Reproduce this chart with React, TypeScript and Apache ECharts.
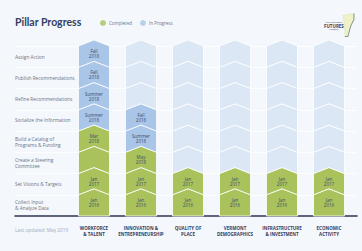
import React, { useEffect, useRef } from "react";
import * as echarts from "echarts";

const pillars = [
  "WORKFORCE\n& TALENT",
  "INNOVATION &\nENTREPRENEURSHIP",
  "QUALITY OF\nPLACE",
  "VERMONT\nDEMOGRAPHICS",
  "INFRASTRUCTURE\n& INVESTMENT",
  "ECONOMIC\nACTIVITY",
];

const steps = [
  "Collect Input\n& Analyze Data",
  "Set Visions & Targets",
  "Create a Steering\nCommittee",
  "Build a Catalog of\nPrograms & Funding",
  "Socialize the Information",
  "Refine Recommendations",
  "Publish Recommendations",
  "Assign Action",
];

// status per step (bottom to top): C = completed, P = in progress, "" = not started
const workforceStatus = ["C", "C", "C", "C", "P", "P", "P", "P"];
const workforceDates = ["Jan\n2016", "Jan\n2017", "", "Mar\n2018", "Summer\n2018", "Summer\n2018", "Fall\n2018", "Fall\n2018"];
const innovationStatus = ["C", "C", "C", "P", "P", "", "", ""];
const innovationDates = ["Jan\n2016", "Jan\n2017", "May\n2018", "Summer\n2018", "Fall\n2018", "", "", ""];
const qualityStatus = ["C", "C", "", "", "", "", "", ""];
const qualityDates = ["Jan\n2016", "Jan\n2017", "", "", "", "", "", ""];
const demographicsStatus = ["C", "C", "", "", "", "", "", ""];
const demographicsDates = ["Jan\n2016", "Jan\n2017", "", "", "", "", "", ""];
const infrastructureStatus = ["C", "C", "", "", "", "", "", ""];
const infrastructureDates = ["Jan\n2016", "Jan\n2017", "", "", "", "", "", ""];
const economicStatus = ["C", "C", "", "", "", "", "", ""];
const economicDates = ["Jan\n2016", "Jan\n2017", "", "", "", "", "", ""];

const legendNames = ["Completed", "In Progress"];
const updatedNote = "Last updated: May 2019";

const COLORS = { C: "#a9c25c", P: "#a9c5e8", "": "#dce7f5" } as Record<string, string>;
const BG = "#f4f7fb";
const NAVY = "#33405f";
const FONT = "'Open Sans', 'Noto Sans', sans-serif";

export default function App() {
  const ref = useRef<HTMLDivElement>(null);
  useEffect(() => {
    if (!ref.current) return;
    const chart = echarts.init(ref.current, undefined, { renderer: "svg" });
    const statuses = [workforceStatus, innovationStatus, qualityStatus, demographicsStatus, infrastructureStatus, economicStatus];
    const dates = [workforceDates, innovationDates, qualityDates, demographicsDates, infrastructureDates, economicDates];
    const cells: { x: number; y: number; s: string; t: string }[] = [];
    statuses.forEach((col, xi) => col.forEach((s, yi) => cells.push({ x: xi, y: yi, s, t: dates[xi][yi] })));

    const renderItem = (params: any, api: any) => {
      const cell = cells[params.dataIndex];
      const [cx, cy] = api.coord([api.value(0), api.value(1)]);
      const bh = api.size([0, 1])[1];
      const w = 31;
      const hc = 6;
      const x0 = cx - w / 2;
      const x1 = cx + w / 2;
      const yt = cy - bh / 2;
      const yb = cy + bh / 2;
      const pts: number[][] = [[x0, yt], [cx, yt - hc], [x1, yt], [x1, yb]];
      if (cell.y > 0) pts.push([cx, yb - hc]);
      pts.push([x0, yb]);
      const children: any[] = [
        { type: "polygon", shape: { points: pts }, style: { fill: COLORS[cell.s], stroke: "#ffffff", lineWidth: 0.8 } },
      ];
      if (cell.t) {
        children.push({
          type: "text",
          x: cx,
          y: cy - 3,
          style: {
            text: cell.t,
            align: "center",
            verticalAlign: "middle",
            fontSize: 4.5,
            lineHeight: 5,
            fill: "#3e4b68",
            fontFamily: FONT,
          },
        });
      }
      return { type: "group", children };
    };

    chart.setOption({
      animation: false,
      backgroundColor: BG,
      title: {
        text: "Pillar Progress",
        left: 15,
        top: 16,
        padding: 0,
        textStyle: { fontSize: 10.5, fontWeight: "bold", color: NAVY, fontFamily: "Lato, 'Open Sans', sans-serif" },
      },
      legend: {
        data: legendNames,
        left: 100,
        top: 20,
        padding: 0,
        icon: "circle",
        itemWidth: 6,
        itemHeight: 6,
        itemGap: 8,
        textStyle: { fontSize: 4.5, color: "#6b7590", fontFamily: FONT, padding: [0, 0, 0, -2] },
      },
      grid: [
        { left: 70.5, right: 9.5, top: 46, bottom: 35 },
        { left: 15, right: 5, top: 46, bottom: 35 },
      ],
      xAxis: [
        {
          type: "category",
          gridIndex: 0,
          data: pillars,
          axisLine: { show: false },
          axisTick: { show: false },
          axisLabel: { fontSize: 4.5, fontWeight: "bold", color: NAVY, margin: 9, lineHeight: 6, fontFamily: FONT, interval: 0 },
        },
        {
          type: "value",
          gridIndex: 1,
          min: 0,
          max: 1,
          axisLine: { show: true, lineStyle: { color: "#2b3552", width: 1.6 } },
          axisTick: { show: false },
          axisLabel: { show: false },
          splitLine: { show: false },
        },
      ],
      yAxis: [
        {
          type: "category",
          gridIndex: 0,
          data: steps,
          axisLine: { show: false },
          axisTick: { show: false },
          axisLabel: { show: false },
          splitLine: { show: false },
        },
        {
          type: "category",
          gridIndex: 1,
          data: steps,
          axisLine: { show: false },
          axisTick: { show: false },
          axisLabel: { inside: true, margin: 0, fontSize: 4.8, lineHeight: 6, color: "#6a7388", fontFamily: FONT },
          splitLine: { show: true, lineStyle: { color: "#ffffff", width: 0.8 } },
        },
      ],
      series: [
        {
          type: "custom",
          xAxisIndex: 0,
          yAxisIndex: 0,
          renderItem,
          encode: { x: 0, y: 1 },
          data: cells.map((c) => [c.x, c.y]),
          z: 3,
        },
        { name: legendNames[0], type: "scatter", data: [], itemStyle: { color: COLORS.C } },
        { name: legendNames[1], type: "scatter", data: [], itemStyle: { color: COLORS.P } },
      ],
      graphic: [
        {
          type: "text",
          left: 15,
          top: 227,
          style: { text: updatedNote, fontSize: 4.8, fill: "#a3abbd", fontFamily: FONT },
        },
        {
          type: "group",
          left: 324,
          top: 11,
          children: [
            {
              type: "polygon",
              shape: { points: [[21, 2], [32, 0], [32, 6], [29, 12], [27, 19], [26, 23], [23, 23], [23, 14], [22, 8]] },
              style: { fill: "#eef2c6", stroke: "#d6dd8c", lineWidth: 0.4 },
            },
            {
              type: "polyline",
              shape: { points: [[32, 0], [32, 6], [29, 12], [27, 19], [26, 23], [23, 23]] },
              style: { stroke: "#4a5470", lineWidth: 0.6, fill: null },
            },
            { type: "text", x: 12, y: 7, style: { text: "THE VERMONT", align: "center", fontSize: 2.4, fill: NAVY, fontFamily: FONT } },
            { type: "text", x: 12, y: 9.5, style: { text: "FUTURES", align: "center", fontSize: 4.5, fontWeight: "bold", fill: NAVY, fontFamily: FONT } },
            { type: "text", x: 12, y: 15, style: { text: "PROJECT", align: "center", fontSize: 2.3, fill: NAVY, fontFamily: FONT } },
          ],
        },
      ],
    });
    return () => chart.dispose();
  }, []);
  return (
    <div
      ref={ref}
      style={{ position: "fixed", left: 0, top: 0, width: 362, height: 251, background: BG }}
    />
  );
}
